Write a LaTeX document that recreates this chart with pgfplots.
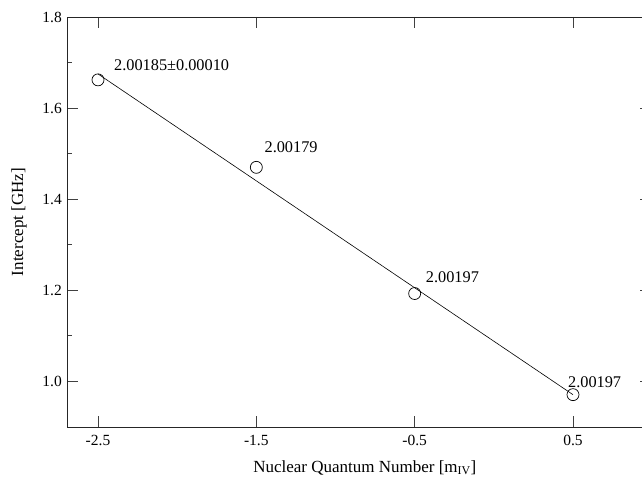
\documentclass[border=0pt]{standalone}
\usepackage{fontspec}
\setmainfont{Liberation Serif}
\usepackage{pgfplots}
\pgfplotsset{compat=1.18}
\begin{document}
\fontsize{15bp}{18bp}\selectfont
\begin{tikzpicture}
\useasboundingbox (-67bp,-52bp) rectangle (575bp,427bp);
\begin{axis}[
  scale only axis,
  width=584bp, height=410bp,
  xmin=-2.6958, xmax=0.9927,
  ymin=0.9, ymax=1.8,
  xtick={-2.5,-1.5,-0.5,0.5},
  xticklabels={-2.5,-1.5,-0.5,0.5},
  ytick={1.0,1.2,1.4,1.6,1.8},
  yticklabels={1.0,1.2,1.4,1.6,1.8},
  minor ytick={1.1,1.3,1.5,1.7},
  major tick length=11bp,
  minor tick length=5bp,
  axis line style={line width=0.9bp, black!85},
  every tick/.style={line width=0.9bp, black!75},
  tick align=inside,
  xticklabel style={font=\fontsize{15.5bp}{18bp}\selectfont, yshift=-3bp},
  yticklabel style={font=\fontsize{15.5bp}{18bp}\selectfont, xshift=0bp},
  xlabel={Nuclear Quantum Number [m\textsubscript{IV}]},
  ylabel={Intercept [GHz]},
  label style={font=\fontsize{17bp}{20bp}\selectfont},
  xlabel style={at={(axis description cs:0.510,0)}, anchor=base, yshift=-45bp},
  ylabel style={at={(axis description cs:0,0.5)}, anchor=center, yshift=48bp},
  clip=false,
]
\addplot[black, line width=0.6bp] coordinates {(-2.5,1.675) (0.5,0.971)};
\addplot[only marks, mark=o, mark size=6bp, black, mark options={line width=0.7bp, fill=white}]
  coordinates {(-2.5,1.662) (-1.5,1.470) (-0.5,1.193) (0.5,0.971)};
\begin{scope}[font=\fontsize{16.3bp}{19bp}\selectfont]
\node[anchor=base west, inner sep=0pt] at (axis cs:-2.399,1.6835) {2.00185\textpm0.00010};
\node[anchor=base west, inner sep=0pt] at (axis cs:-1.449,1.503) {2.00179};
\node[anchor=base west, inner sep=0pt] at (axis cs:-0.430,1.2176) {2.00197};
\node[anchor=base west, inner sep=0pt] at (axis cs:0.468,0.987) {2.00197};
\end{scope}
\end{axis}
\end{tikzpicture}
\end{document}
